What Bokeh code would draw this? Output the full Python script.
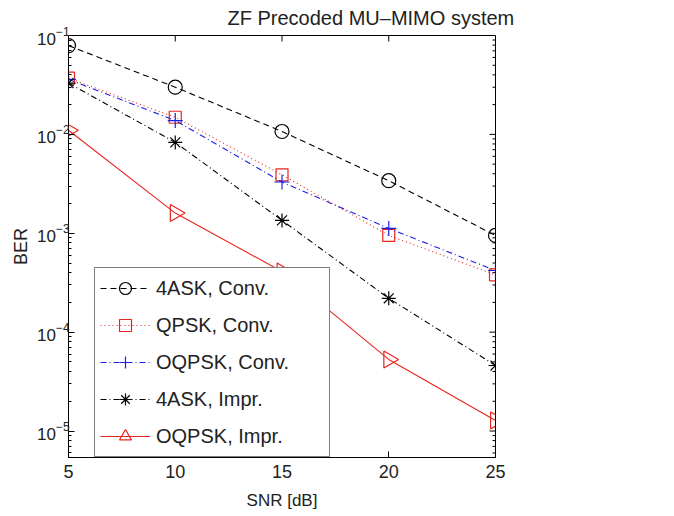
import numpy as np
from bokeh.plotting import figure
from bokeh.models import (Legend, LegendItem, FixedTicker, LogTicker, Range1d, Title)
from bokeh.embed import file_html
from bokeh.resources import INLINE

snr = [5, 10, 15, 20, 25]
ber_4ask_conv = [0.079, 0.030, 0.0107, 0.0034, 0.00095]
ber_qpsk_conv = [0.037, 0.0149, 0.0039, 0.00095, 0.00038]
ber_oqpsk_conv = [0.036, 0.0138, 0.0033, 0.00112, 0.00042]
ber_4ask_impr = [0.033, 0.0083, 0.00135, 0.00022, 4.6e-5]
ber_oqpsk_impr = [0.0110, 0.0016, 0.00041, 5.3e-5, 1.28e-5]
series_names = ["4ASK, Conv.", "QPSK, Conv.", "OQPSK, Conv.", "4ASK, Impr.", "OQPSK, Impr."]
x_ticks = [5, 10, 15, 20, 25]
x_limits = (5, 25)
y_limits = (5.4e-6, 0.1)

FONT = "Liberation Sans"
TXT = "#222222"

p = figure(frame_width=427, frame_height=422, x_range=Range1d(*x_limits),
           y_range=Range1d(*y_limits), y_axis_type="log", output_backend="svg",
           toolbar_location=None,
           min_border_left=68, min_border_right=60, min_border_top=35, min_border_bottom=48)
p.title = Title(text="ZF Precoded MU\u2013MIMO system", align="left", offset=159,
                vertical_align="top",
                text_font=FONT, text_font_size="20px", text_font_style="normal",
                text_color=TXT, standoff=10)
p.outline_line_color = "black"
p.outline_line_width = 1
p.grid.visible = False
p.background_fill_color = "white"
p.border_fill_color = "white"

p.xaxis.ticker = FixedTicker(ticks=x_ticks)
p.yaxis.ticker = LogTicker(num_minor_ticks=10)
for ax in (p.xaxis[0], p.yaxis[0]):
    ax.major_tick_in = 6
    ax.major_tick_out = 0
    ax.minor_tick_in = 3
    ax.minor_tick_out = 0
    ax.major_label_text_font = FONT
    ax.major_label_text_font_size = "18px"
    ax.major_label_text_color = TXT
    ax.axis_label_text_font = FONT
    ax.axis_label_text_font_size = "17px"
    ax.axis_label_text_font_style = "normal"
    ax.axis_label_text_color = TXT
    ax.axis_line_color = "black"
p.xaxis.axis_label = "SNR [dB]"
p.yaxis.axis_label = "BER"
p.yaxis.major_label_text_font_size = "17px"
p.yaxis.axis_label_text_font_size = "18px"
p.xaxis.minor_tick_line_color = None
p.xaxis.major_label_standoff = 7
p.xaxis.axis_label_standoff = 10
p.yaxis.major_label_standoff = -1
p.yaxis.axis_label_standoff = 3

# mirrored ticks on the top and right edges of the box
p.ray(x=x_ticks, y=[y_limits[1]] * len(x_ticks), length=6, length_units="screen",
      angle=-np.pi / 2, line_color="black", line_width=1)
dec = np.arange(np.floor(np.log10(y_limits[0])), np.ceil(np.log10(y_limits[1])) + 1)
major_y = [10.0 ** d for d in dec if y_limits[0] <= 10.0 ** d <= y_limits[1]]
minor_y = [m * 10.0 ** d for d in dec for m in range(2, 10)
           if y_limits[0] <= m * 10.0 ** d <= y_limits[1]]
p.ray(x=[x_limits[1]] * len(major_y), y=major_y, length=6, length_units="screen",
      angle=np.pi, line_color="black", line_width=1)
p.ray(x=[x_limits[1]] * len(minor_y), y=minor_y, length=3, length_units="screen",
      angle=np.pi, line_color="black", line_width=1)

red = "#e8261f"
specs = [
    (ber_4ask_conv, "black", "6 4", "circle", 14, 0),
    (ber_qpsk_conv, red, "1 3", "square", 12, 0),
    (ber_oqpsk_conv, "#1f1fe6", "6 3 1 3", "cross", 15, 0),
    (ber_4ask_impr, "black", "6 3 1 3", "asterisk", 14, 0),
    (ber_oqpsk_impr, red, "solid", "triangle", 17, -np.pi / 2),
]
items = []
for (vals, col, dash, marker, size, ang), name in zip(specs, series_names):
    ln = p.line(snr, vals, line_color=col, line_width=1.1, line_dash=dash)
    sc = p.scatter(snr, vals, marker=marker, size=size, angle=ang, line_color=col,
                   fill_color=None, line_width=1.2)
    items.append(LegendItem(label=name, renderers=[ln, sc]))

legend = Legend(items=items, location=(26, 0), glyph_width=50, glyph_height=30,
                label_text_font=FONT, label_text_font_size="20px", label_text_color=TXT,
                spacing=7, padding=5, margin=0, border_line_color="black",
                border_line_width=1, background_fill_color="white", background_fill_alpha=1,
                label_standoff=6, label_width=168)
p.add_layout(legend, "center")

open("out.html", "w").write(file_html(p, INLINE))
